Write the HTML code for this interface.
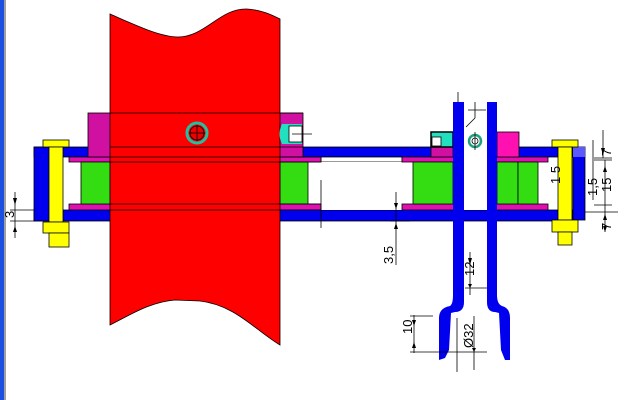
<!DOCTYPE html>
<html><head><meta charset="utf-8"><style>
html,body{margin:0;padding:0;background:#fff;width:640px;height:400px;overflow:hidden}
svg{display:block}
text{font-family:"Liberation Sans",sans-serif;font-size:13px;fill:#000}
</style></head><body>
<svg width="640" height="400" viewBox="0 0 640 400" xmlns="http://www.w3.org/2000/svg">
<rect x="0" y="0" width="640" height="400" fill="#fff"/>
<rect x="0" y="0" width="4" height="400" fill="#1a4fe0"/>
<rect x="4" y="0" width="2" height="400" fill="#a0a0a0"/>

<!-- blue plates -->
<rect x="34" y="147" width="539" height="10" fill="#0000ee" stroke="#000" stroke-width="0.8"/>
<rect x="34" y="210" width="539" height="11" fill="#0000ee" stroke="#000" stroke-width="0.8"/>
<rect x="34" y="147" width="16" height="74" fill="#0000ee" stroke="#000" stroke-width="0.8"/>
<rect x="573" y="147" width="12" height="73" fill="#0000ee" stroke="#000" stroke-width="0.8"/>
<rect x="573" y="147" width="12" height="10" fill="#5a5aff"/>
<!-- white gap plates -->
<rect x="321" y="157" width="81" height="5" fill="#fff" stroke="#000" stroke-width="0.8"/>
<rect x="321" y="162" width="81" height="48" fill="#fff"/>

<!-- magenta thin plates -->
<rect x="69" y="157" width="252" height="5" fill="#e010b0" stroke="#000" stroke-width="0.8"/>
<rect x="69" y="204" width="252" height="6" fill="#e010b0" stroke="#000" stroke-width="0.8"/>
<rect x="402" y="157" width="146" height="5" fill="#e010b0" stroke="#000" stroke-width="0.8"/>
<rect x="402" y="204" width="146" height="6" fill="#e010b0" stroke="#000" stroke-width="0.8"/>

<!-- magenta top block left -->
<rect x="88" y="113" width="215" height="44" fill="#d010a0" stroke="#000" stroke-width="0.8"/>
<!-- greens -->
<rect x="81" y="162" width="29" height="42" fill="#33dd11" stroke="#000" stroke-width="0.8"/>
<rect x="280" y="162" width="28" height="42" fill="#33dd11" stroke="#000" stroke-width="0.8"/>
<rect x="413" y="162" width="40" height="42" fill="#33dd11" stroke="#000" stroke-width="0.8"/>
<rect x="497" y="162" width="21" height="42" fill="#33dd11" stroke="#000" stroke-width="0.8"/>
<rect x="518" y="162" width="20" height="42" fill="#33dd11" stroke="#000" stroke-width="0.8"/>

<!-- red shaft -->
<path d="M110,14 C135,25 160,37 178,37 C205,37 220,8 247,9 C262,10 272,15 280,19 L280,345 C255,330 235,305 200,301 L175,300 C150,302 130,315 110,325 Z" fill="#ff0000" stroke="#000" stroke-width="0.8"/>
<line x1="110" y1="113" x2="303" y2="113" stroke="#000" stroke-width="0.8"/>
<line x1="110" y1="147" x2="303" y2="147" stroke="#000" stroke-width="0.8"/>
<line x1="110" y1="157" x2="321" y2="157" stroke="#000" stroke-width="0.8"/>
<line x1="110" y1="162" x2="321" y2="162" stroke="#000" stroke-width="0.8"/>
<line x1="110" y1="204" x2="321" y2="204" stroke="#000" stroke-width="0.8"/>
<line x1="110" y1="210" x2="321" y2="210" stroke="#000" stroke-width="0.8"/>
<circle cx="197" cy="133" r="10" fill="#e00" stroke="#20c0a0" stroke-width="3"/>
<circle cx="197" cy="133" r="7" fill="none" stroke="#000" stroke-width="0.8"/>
<line x1="189" y1="133" x2="205" y2="133" stroke="#000" stroke-width="0.8"/>
<line x1="197" y1="125" x2="197" y2="141" stroke="#000" stroke-width="0.8"/>
<!-- cyan at right of shaft -->
<path d="M282,124 L302,124 L302,144 L282,144 Q277,134 282,124 Z" fill="#20e0c0"/>
<rect x="289" y="126" width="13" height="16" fill="#fff" stroke="#000" stroke-width="0.8"/>
<line x1="292" y1="134" x2="312" y2="134" stroke="#000" stroke-width="0.8"/>

<!-- right upper blocks -->
<rect x="497" y="132" width="22" height="25" fill="#ff10b0" stroke="#000" stroke-width="0.8"/>
<rect x="431" y="147" width="22" height="10" fill="#d010a0" stroke="#000" stroke-width="0.8"/>
<rect x="431" y="132" width="22" height="15" fill="#20e0c0" stroke="#000" stroke-width="1.5"/>
<rect x="432" y="137" width="9" height="9" fill="#fff" stroke="#000" stroke-width="0.8"/>
<rect x="464" y="102" width="23" height="108" fill="#fff"/>
<circle cx="475" cy="141" r="6" fill="none" stroke="#20a080" stroke-width="2.5"/>
<circle cx="475" cy="141" r="3" fill="none" stroke="#000" stroke-width="0.8"/>
<line x1="475" y1="132" x2="475" y2="150" stroke="#000" stroke-width="0.8"/>
<line x1="475" y1="118" x2="466" y2="127" stroke="#000" stroke-width="0.8"/>
<line x1="468" y1="110" x2="486" y2="110" stroke="#000" stroke-width="0.8"/>
<line x1="475" y1="102" x2="475" y2="118" stroke="#000" stroke-width="0.8"/>
<line x1="458" y1="92" x2="458" y2="102" stroke="#000" stroke-width="0.8"/>

<!-- pipe -->
<path d="M453,102 L464,102 L464,302 Q464,312 455,312 L451,313 L449,350 L445,358 L439,360 L439,318 Q439,308 450,306 Q453,304 453,295 Z" fill="#0000ee"/>
<path d="M487,102 L497,102 L497,295 Q497,304 502,306 Q510,308 510,318 L510,360 L505,360 L501,350 L499,313 L495,312 Q487,312 487,302 Z" fill="#0000ee"/>

<!-- bolts -->
<g fill="#ffff00" stroke="#000" stroke-width="0.8">
<rect x="43" y="140" width="26" height="7"/>
<rect x="49" y="147" width="14" height="75"/>
<rect x="43" y="222" width="26" height="11"/>
<rect x="49" y="233" width="20" height="14"/>
<rect x="552" y="140" width="26" height="7"/>
<rect x="558" y="147" width="14" height="73"/>
<rect x="552" y="220" width="26" height="12"/>
<rect x="558" y="232" width="14" height="13"/>
</g>

<!-- dimensions -->
<g stroke="#000" stroke-width="0.8" fill="none">
<line x1="15" y1="192" x2="15" y2="238"/>
<line x1="10" y1="210" x2="34" y2="210"/>
<line x1="10" y1="221" x2="34" y2="221"/>
<line x1="321" y1="180" x2="321" y2="228"/>
<line x1="396" y1="192" x2="396" y2="265"/>
<line x1="390" y1="221" x2="410" y2="221"/>
<line x1="470" y1="252" x2="470" y2="295"/>
<line x1="465" y1="288" x2="487" y2="288"/>
<line x1="414" y1="315" x2="414" y2="353"/>
<line x1="410" y1="316" x2="433" y2="316"/>
<line x1="410" y1="352" x2="487" y2="352"/>
<line x1="457" y1="318" x2="457" y2="372"/>
<line x1="474" y1="316" x2="474" y2="370"/>
<line x1="603" y1="130" x2="603" y2="158"/>
<line x1="594" y1="158" x2="612" y2="158"/>
<line x1="594" y1="160" x2="612" y2="160"/>
<line x1="594" y1="205" x2="612" y2="205"/>
<line x1="585" y1="212" x2="618" y2="212"/>
<line x1="605" y1="160" x2="605" y2="232"/>
<line x1="593" y1="140" x2="593" y2="200"/>
</g>
<g fill="#000">
<path d="M13,198 L17,198 L15,205 Z"/><path d="M13,232 L17,232 L15,226 Z"/>
<path d="M394,203 L398,203 L396,209 Z"/><path d="M394,229 L398,229 L396,223 Z"/>
<path d="M468,258 L472,258 L470,265 Z"/><path d="M468,284 L472,284 L470,288 Z"/>
<path d="M412,320 L416,320 L414,326 Z"/><path d="M412,348 L416,348 L414,342 Z"/>
<path d="M472,348 L476,348 L474,352 Z"/>
<path d="M601,148 L605,148 L603,155 Z"/><path d="M603,172 L607,172 L605,166 Z"/>
<path d="M603,220 L607,220 L605,214 Z"/><path d="M603,226 L607,226 L605,232 Z"/>
</g>
<g font-size="12">
<text transform="translate(14,218) rotate(-90)">3</text>
<text transform="translate(393,264) rotate(-90)">3,5</text>
<text transform="translate(474,276) rotate(-90)">12</text>
<text transform="translate(412,334) rotate(-90)">10</text>
<text transform="translate(473,348) rotate(-90)">Ø32</text>
<text transform="translate(611,156) rotate(-90)">7</text>
<text transform="translate(611,192) rotate(-90)">15</text>
<text transform="translate(597,196) rotate(-90)">1,5</text>
<text transform="translate(611,230) rotate(-90)">7</text>
<text transform="translate(560,184) rotate(-90)">1 5</text>
</g>
</svg>
</body></html>
